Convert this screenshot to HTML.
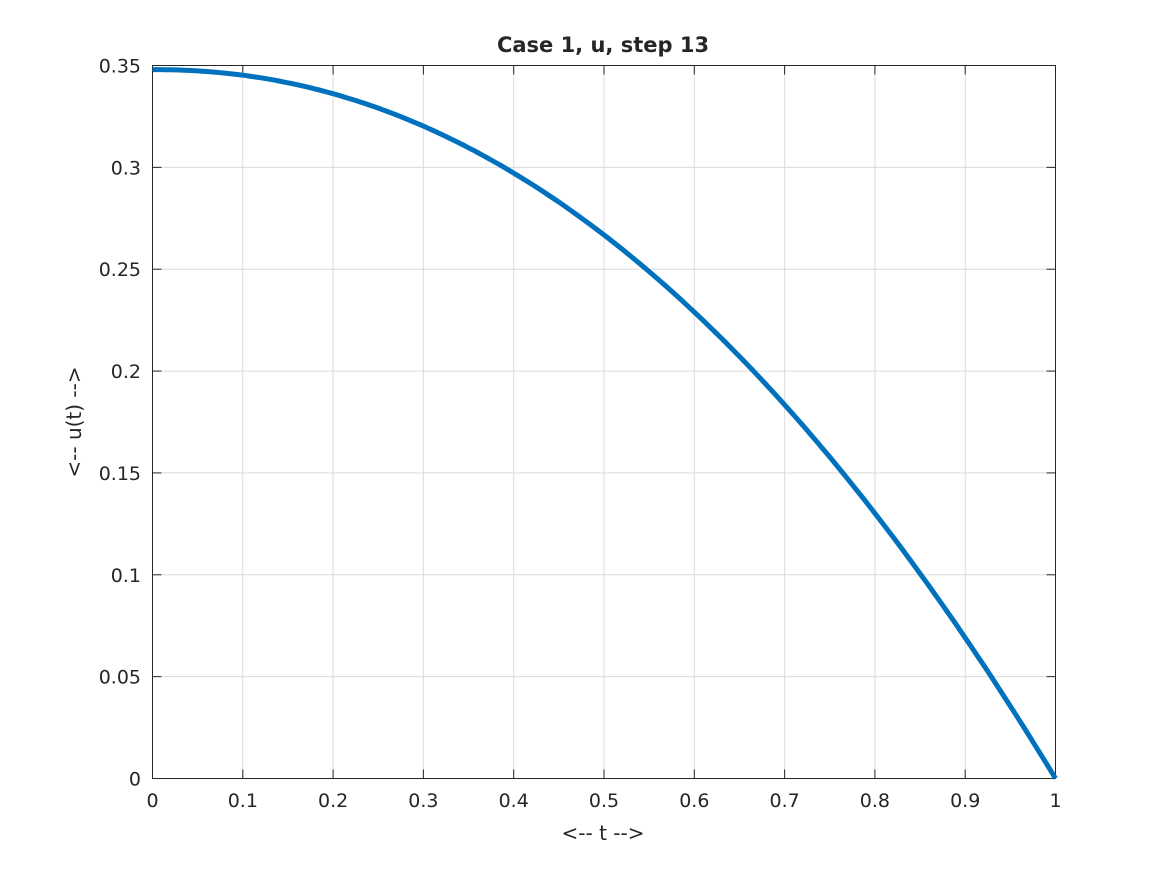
<!DOCTYPE html>
<html><head><meta charset="utf-8"><style>
html,body{margin:0;padding:0;background:#fff;}
text{font-family:"DejaVu Sans","Liberation Sans",sans-serif;fill:#262626;}
</style></head><body>
<svg id="s" width="1167" height="875" xmlns="http://www.w3.org/2000/svg">
<rect width="1167" height="875" fill="#fff"/>
<g id="grid" stroke="#dcdcdc" stroke-width="1"></g>
<rect x="152.5" y="65.5" width="903" height="713" fill="none" stroke="#262626" stroke-width="1"/>
<g id="ticks" stroke="#262626" stroke-width="1"></g>
<g id="labels" font-size="19"></g>
<polyline id="curve" fill="none" stroke="#0072bd" stroke-width="5" stroke-linejoin="round"/>
<text x="603" y="52" font-size="21" font-weight="bold" text-anchor="middle" fill="#000">Case 1, u, step 13</text>
<text x="603" y="840" font-size="20" text-anchor="middle">&lt;-- t --&gt;</text>
<text transform="translate(81,422) rotate(-90)" font-size="20" text-anchor="middle">&lt;-- u(t) --&gt;</text>
</svg>
<script>
var X0=152.5,X1=1055.5,Y0=778.5,Y1=65.5,ns="http://www.w3.org/2000/svg";
function el(p,t,a){var e=document.createElementNS(ns,t);for(var k in a)e.setAttribute(k,a[k]);p.appendChild(e);return e;}
var g=document.getElementById('grid'),tk=document.getElementById('ticks'),lb=document.getElementById('labels');
for(var i=0;i<=10;i++){var x=X0+(X1-X0)*i/10;
 if(i>0&&i<10)el(g,'line',{x1:x,y1:Y1,x2:x,y2:Y0});
 el(tk,'line',{x1:x,y1:Y0,x2:x,y2:Y0-9});el(tk,'line',{x1:x,y1:Y1,x2:x,y2:Y1+9});
 var t=el(lb,'text',{x:x,y:807,'text-anchor':'middle'});t.textContent=i==0?'0':i==10?'1':(i/10).toString();}
var yl=['0','0.05','0.1','0.15','0.2','0.25','0.3','0.35'];
for(var j=0;j<=7;j++){var y=Y0-(Y0-Y1)*j/7;
 if(j>0&&j<7)el(g,'line',{x1:X0,y1:y,x2:X1,y2:y});
 el(tk,'line',{x1:X0,y1:y,x2:X0+9,y2:y});el(tk,'line',{x1:X1,y1:y,x2:X1-9,y2:y});
 var t=el(lb,'text',{x:141,y:y+7,'text-anchor':'end'});t.textContent=yl[j];}
var pts=[];for(var k=0;k<=200;k++){var t=k/200,u=0.348*(1-Math.pow(t,2.1));
 pts.push((X0+(X1-X0)*t).toFixed(1)+','+(Y0-(Y0-Y1)*u/0.35).toFixed(1));}
document.getElementById('curve').setAttribute('points',pts.join(' '));
</script>
</body></html>
